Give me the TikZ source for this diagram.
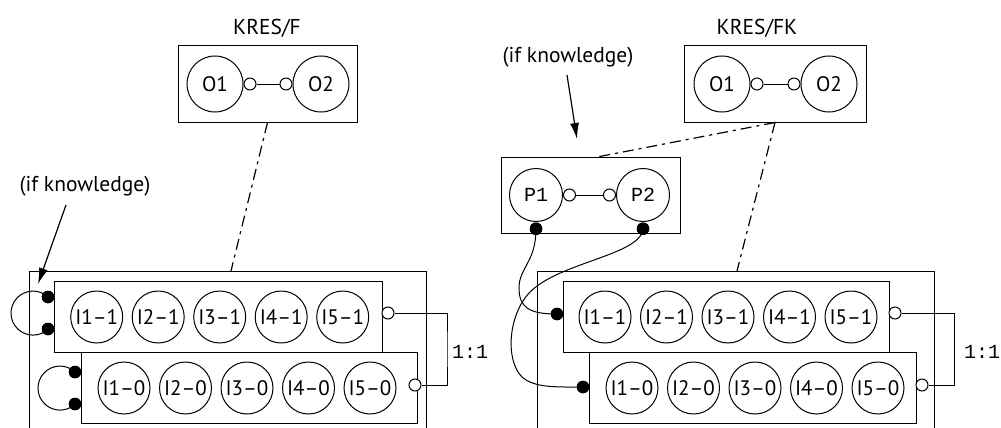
\documentclass[tikz,border=0pt]{standalone}
\usepackage{fontspec}
\setmainfont{PT Sans}
\setmonofont{Liberation Mono}
\usetikzlibrary{arrows.meta}
\begin{document}
\begin{tikzpicture}[x=1pt,y=-1pt, line width=1pt,
  box/.style={draw, fill=white, inner sep=0pt},
  circ/.style={circle, draw, fill=white, minimum size=52pt, inner sep=0pt, font=\fontsize{21}{21}\selectfont},
  ocirc/.style={circ, minimum size=56pt, font=\fontsize{21}{21}\selectfont},
  pcirc/.style={circ, minimum size=53pt, font=\fontsize{20}{20}\selectfont\ttfamily},
  port/.style={circle, draw, fill=white, minimum size=12pt, inner sep=0pt},
  dot/.style={circle, fill=black, minimum size=12.5pt, inner sep=0pt},
  dashdot/.style={line width=1.2pt, dash pattern=on 11pt off 5pt on 3pt off 5pt},
  lbl/.style={font=\fontsize{21.5}{21.5}\selectfont, inner sep=0pt},
  ratio/.style={font=\fontsize{20}{20}\selectfont\ttfamily, inner sep=0pt},
  arr/.style={-{Latex[length=16pt,width=9pt]}, line width=1.2pt}
]
\useasboundingbox (0,0) rectangle (1001,428);

% ---------------- left: KRES/F ----------------
\node[lbl] (tL) at (267,28) {KRES/F};
\node[box, minimum width=179pt, minimum height=76pt] (OL) at (267.5,84) {};
\node[ocirc] (LO1) at (215,84) {O1};
\node[ocirc] (LO2) at (321,84) {O2};
\node[port, anchor=west] (LO1p) at (LO1.east) {};
\node[port, anchor=east] (LO2p) at (LO2.west) {};
\draw (LO1p) -- (LO2p);

\coordinate (BLt) at (231,271);
\draw[dashdot] (OL.south) -- (BLt);

\draw (29,432) -- (29,271) -- (426,271) -- (426,432);

\node[box, minimum width=328pt, minimum height=71pt] (L1) at (218,316.5) {};
\node[box, minimum width=336pt, minimum height=71pt] (L2) at (249,387.5) {};
\foreach \i/\x in {1/96.7,2/158.2,3/219.7,4/281.2,5/342.7}
  \node[circ] (La\i) at (\x,317) {I\i–1};
\foreach \i/\x in {1/124,2/185.5,3/247,4/308.5,5/370}
  \node[circ] (Lb\i) at (\x,388) {I\i–0};

\node[dot] (Ld1a) at (48,297) {};
\node[dot] (Ld1b) at (48,329) {};
\node[dot] (Ld2a) at (75,372) {};
\node[dot] (Ld2b) at (75,404) {};
\draw (Ld1a.center) arc[start angle=47, end angle=313, radius=22pt];
\draw (Ld2a.center) arc[start angle=47, end angle=313, radius=22pt];
\node[dot] at (Ld1a) {};
\node[dot] at (Ld1b) {};
\node[dot] at (Ld2a) {};
\node[dot] at (Ld2b) {};

\coordinate (Lc) at (447,349);
\node[port] (Lp1) at (388,313) {};
\node[port] (Lp2) at (415,385) {};
\draw (Lp1.east) -| (Lc) |- (Lp2.east);
\node[ratio] (Lr) at (470,352) {1:1};

\node[lbl] (kL) at (85,186) {(if knowledge)};
\coordinate (kLs) at (66,205);
\coordinate (kLe) at (38,284);
\draw[arr] (kLs) -- (kLe);

% ---------------- right: KRES/FK ----------------
\node[lbl] (tR) at (757,28) {KRES/FK};
\node[box, minimum width=182pt, minimum height=76pt] (OR) at (775,84) {};
\node[ocirc] (RO1) at (722,84) {O1};
\node[ocirc] (RO2) at (829,84) {O2};
\node[port, anchor=west] (RO1p) at (RO1.east) {};
\node[port, anchor=east] (RO2p) at (RO2.west) {};
\draw (RO1p) -- (RO2p);

\node[lbl] (kR) at (568,57) {(if knowledge)};
\coordinate (kRs) at (567,75);
\coordinate (kRe) at (577,139);
\draw[arr] (kRs) -- (kRe);

\node[box, minimum width=179pt, minimum height=76pt] (PB) at (590.5,195) {};
\node[pcirc] (P1) at (536,195) {P1};
\node[pcirc] (P2) at (643,195) {P2};
\node[port, anchor=west] (P1p) at (P1.east) {};
\node[port, anchor=east] (P2p) at (P2.west) {};
\draw (P1p) -- (P2p);
\node[dot, anchor=north] (Pd1) at (P1.south) {};
\node[dot, anchor=north] (Pd2) at (P2.south) {};

\coordinate (PBt) at (597,157);
\coordinate (BRt) at (737,271);
\draw[dashdot] (OR.south) -- (PBt);
\draw[dashdot] (OR.south) -- (BRt);

\draw (537,432) -- (537,271) -- (934,271) -- (934,432);

\node[box, minimum width=326pt, minimum height=71pt] (R1) at (726,316.5) {};
\node[box, minimum width=327pt, minimum height=71pt] (R2) at (752.5,387.5) {};
\foreach \i/\x in {1/605,2/666.5,3/728,4/789.5,5/851}
  \node[circ] (Ra\i) at (\x,317) {I\i–1};
\foreach \i/\x in {1/632,2/693.5,3/755,4/816.5,5/878}
  \node[circ] (Rb\i) at (\x,388) {I\i–0};

\node[dot] (Rd1) at (557,314) {};
\node[dot] (Rd2) at (583,387) {};

\draw (Pd1.center) .. controls (536,262) and (519,268) .. (519,288)
      .. controls (519,308) and (530,314) .. (Rd1.center);
\draw (Pd2.center) .. controls (641,255) and (560,262) .. (530,292)
      .. controls (508,315) and (505,360) .. (522,377)
      .. controls (535,388) and (555,387) .. (Rd2.center);
\node[dot] at (Pd1) {};
\node[dot] at (Pd2) {};
\node[dot] at (Rd1) {};
\node[dot] at (Rd2) {};

\coordinate (Rc) at (954,349);
\node[port] (Rp1) at (895,313) {};
\node[port] (Rp2) at (922,385) {};
\draw (Rp1.east) -| (Rc) |- (Rp2.east);
\node[ratio] (Rr) at (982,352) {1:1};
\end{tikzpicture}
\end{document}
